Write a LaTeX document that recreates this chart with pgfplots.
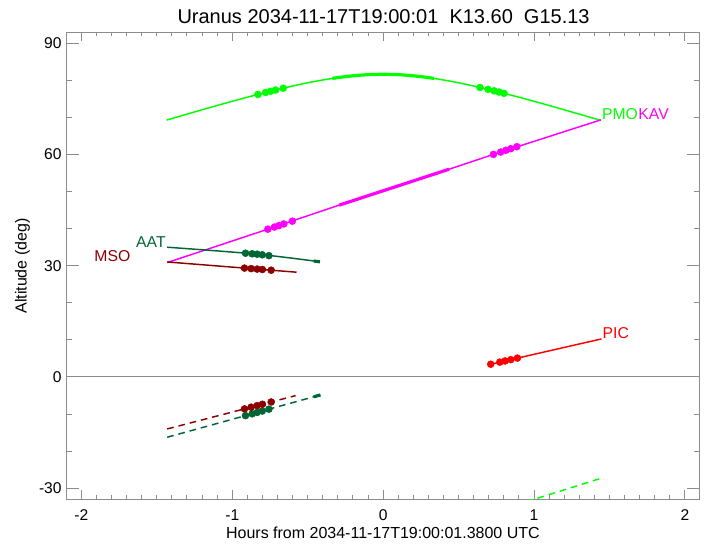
\documentclass[border=0pt]{standalone}
\usepackage{pgfplots}
\pgfplotsset{compat=1.18}
\usepackage{fontspec}
\setmainfont{Liberation Sans}
\definecolor{pmo}{RGB}{0,255,0}
\definecolor{kav}{RGB}{255,0,255}
\definecolor{aat}{RGB}{0,102,51}
\definecolor{mso}{RGB}{140,0,0}
\definecolor{pic}{RGB}{255,0,0}
\definecolor{axgray}{RGB}{140,140,140}
\begin{document}
\begin{tikzpicture}
\begin{axis}[
  at={(0,0)}, anchor=south west,
  scale only axis, width=475.3pt, height=350.5pt,
  xmin=-2.1, xmax=2.1, ymin=-33, ymax=93,
  xtick={-2,-1,0,1,2}, minor x tick num=9,
  ytick={-30,0,30,60,90}, minor y tick num=2,
  tick align=inside,
  axis line style={axgray, line width=0.75pt},
  every tick/.style={axgray, line width=0.75pt},
  xtick style={/pgfplots/major tick length=7pt,/pgfplots/minor tick length=3.3pt},
  ytick style={/pgfplots/major tick length=9.5pt,/pgfplots/minor tick length=4.5pt},
  tick label style={font=\fontsize{11.7}{14}\selectfont},
  /pgf/number format/assume math mode=true,
  xticklabel style={yshift=-4pt},
  clip=true,
]
% zero line
\addplot[axgray, line width=0.75pt] coordinates {(-2.1,0) (2.1,0)};

% PMO (green)
\addplot[pmo, line width=1.1pt, smooth] coordinates {
 (-1.435,69.25) (-1.3,70.86) (-1.2,72.03) (-1.1,73.19) (-1.0,74.32) (-0.9,75.42)
 (-0.8,76.48) (-0.7,77.49) (-0.6,78.44) (-0.5,79.31) (-0.4,80.07) (-0.3,80.71)
 (-0.2,81.19) (-0.1,81.50) (0,81.60) (0.1,81.50) (0.2,81.19) (0.3,80.71)
 (0.4,80.07) (0.5,79.31) (0.6,78.44) (0.7,77.49) (0.8,76.48) (0.9,75.42)
 (1.0,74.32) (1.1,73.19) (1.2,72.03) (1.3,70.86) (1.443,69.15)};
\addplot[pmo, line width=2.4pt, smooth] coordinates {
 (-0.337,80.49) (-0.3,80.71) (-0.2,81.19) (-0.1,81.50) (0,81.60) (0.1,81.50)
 (0.2,81.19) (0.3,80.71) (0.337,80.49)};
\addplot[pmo, only marks, mark=*, mark size=2.6pt] coordinates {
 (-0.83,76.16) (-0.779,76.69) (-0.746,77.03) (-0.713,77.36) (-0.662,77.85)
 (0.642,78.04) (0.695,77.54) (0.735,77.15) (0.768,76.82) (0.801,76.47)};
\addplot[pmo, line width=1.1pt, dash pattern=on 5pt off 3.7pt] coordinates {
 (0.95,-33.64) (1.43,-27.5)};

% KAV (magenta)
\addplot[kav, line width=1.1pt] coordinates {
 (-1.431,30.83) (-0.764,39.84) (-0.293,46.3) (0.437,56.0) (0.731,60.0) (1.443,69.31)};
\addplot[kav, line width=2.4pt] coordinates {(-0.293,46.3) (0.437,56.0)};
\addplot[kav, only marks, mark=*, mark size=2.6pt] coordinates {
 (-0.764,39.84) (-0.720,40.42) (-0.691,40.8) (-0.658,41.25) (-0.602,42.0)
 (0.731,60.0) (0.779,60.64) (0.813,61.1) (0.846,61.54) (0.886,62.08)};

% AAT (dark green)
\addplot[aat, line width=1.1pt, smooth] coordinates {
 (-1.431,34.98) (-0.835,33.1) (-0.419,31.05)};
\addplot[aat, line width=2.4pt] coordinates {(-0.46,31.25) (-0.419,31.05)};
\addplot[aat, only marks, mark=*, mark size=2.6pt] coordinates {
 (-0.912,33.36) (-0.868,33.2) (-0.835,33.1) (-0.801,32.93) (-0.757,32.7)};
\addplot[aat, line width=1.1pt, dash pattern=on 5pt off 3.7pt] coordinates {
 (-1.431,-16.26) (-0.415,-4.85)};
\addplot[aat, line width=2.4pt] coordinates {(-0.46,-5.35) (-0.415,-4.85)};
\addplot[aat, only marks, mark=*, mark size=2.6pt] coordinates {
 (-0.912,-10.43) (-0.868,-9.94) (-0.835,-9.57) (-0.801,-9.19) (-0.757,-8.69)};

% MSO (dark red)
\addplot[mso, line width=1.1pt] coordinates {(-1.431,31.0) (-0.574,28.24)};
\addplot[mso, only marks, mark=*, mark size=2.6pt] coordinates {
 (-0.919,29.35) (-0.875,29.21) (-0.835,29.08) (-0.80,28.97) (-0.742,28.78)};
\addplot[mso, line width=1.1pt, dash pattern=on 5pt off 3.7pt] coordinates {
 (-1.431,-14.02) (-0.58,-5.04)};
\addplot[mso, only marks, mark=*, mark size=2.6pt] coordinates {
 (-0.919,-8.62) (-0.875,-8.15) (-0.835,-7.73) (-0.80,-7.36) (-0.742,-6.75)};

% PIC (red)
\addplot[pic, line width=1.1pt] coordinates {(0.713,3.43) (1.447,10.25)};
\addplot[pic, only marks, mark=*, mark size=2.6pt] coordinates {
 (0.713,3.43) (0.773,3.99) (0.808,4.31) (0.846,4.67) (0.890,5.08)};

% labels
\node[pmo, anchor=base west, inner sep=0pt, xshift=0.75pt, font=\fontsize{11.8}{14}\selectfont] (pmolab) at (axis cs:1.443,69.31) {PMO};
\node[kav, anchor=base west, inner sep=0pt, font=\fontsize{11.8}{14}\selectfont] at (pmolab.base east) {KAV};
\node[pic, anchor=base west, inner sep=0pt, xshift=0.75pt, font=\fontsize{11.8}{14}\selectfont] at (axis cs:1.447,10.25) {PIC};
\node[aat, anchor=base east, inner sep=0pt, xshift=-1pt, font=\fontsize{11.8}{14}\selectfont] at (axis cs:-1.431,34.98) {AAT};
\node[mso, anchor=base east, inner sep=0pt, xshift=-27.5pt, font=\fontsize{11.8}{14}\selectfont] at (axis cs:-1.431,31.0) {MSO};
\end{axis}
\node[anchor=base, inner sep=0pt, font=\fontsize{15}{18}\selectfont] at (238pt,356.5pt) {Uranus 2034-11-17T19:00:01\ \ K13.60\ \ G15.13};
\node[anchor=base, inner sep=0pt, font=\fontsize{12}{14}\selectfont] at (237.5pt,-29pt) {Hours from 2034-11-17T19:00:01.3800 UTC};
\node[anchor=base, inner sep=0pt, rotate=90, font=\fontsize{12}{14}\selectfont] at (-29.7pt,175pt) {Altitude (deg)};
\pgfresetboundingbox
\path (-49.7pt,-33.5pt) rectangle (481.3pt,374.5pt);
\end{tikzpicture}
\end{document}
